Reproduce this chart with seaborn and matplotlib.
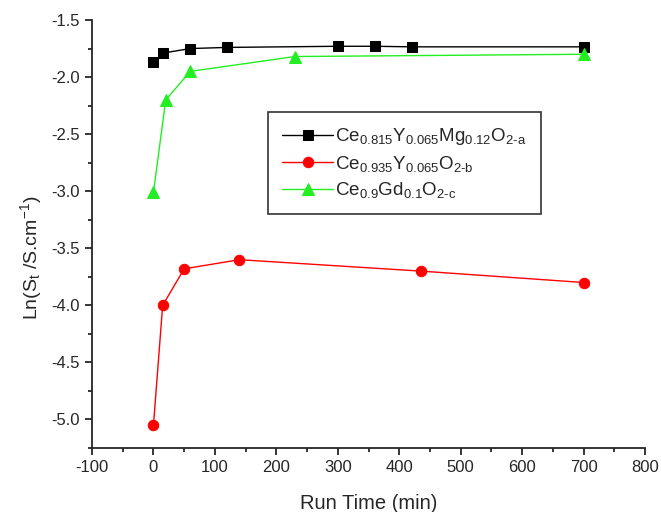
import matplotlib
matplotlib.use("Agg")
import matplotlib.pyplot as plt
import seaborn as sns
import pandas as pd
from matplotlib.ticker import MultipleLocator

# data
time_a = [0, 15, 60, 120, 300, 360, 420, 700]
ln_a = [-1.87, -1.79, -1.75, -1.74, -1.73, -1.73, -1.735, -1.735]
time_b = [0, 15, 50, 140, 435, 700]
ln_b = [-5.05, -4.00, -3.68, -3.60, -3.70, -3.80]
time_c = [0, 20, 60, 230, 700]
ln_c = [-3.01, -2.20, -1.95, -1.82, -1.80]
labels = [r'Ce$_{0.815}$Y$_{0.065}$Mg$_{0.12}$O$_{2\text{-}a}$',
          r'Ce$_{0.935}$Y$_{0.065}$O$_{2\text{-}b}$',
          r'Ce$_{0.9}$Gd$_{0.1}$O$_{2\text{-}c}$']

sns.set_style("ticks")
plt.rcParams['font.family'] = ['Liberation Sans', 'DejaVu Sans']
plt.rcParams['mathtext.default'] = 'regular'
plt.rcParams['mathtext.fontset'] = 'custom'
plt.rcParams['mathtext.rm'] = 'Liberation Sans'
plt.rcParams['axes.unicode_minus'] = False

fig = plt.figure(figsize=(6.61, 5.12), dpi=100)
ax = fig.add_axes([0.1392, 0.125, 0.8366, 0.8359])

series = [(time_a, ln_a, 'black', 's', 7),
          (time_b, ln_b, '#ff0000', 'o', 7.5),
          (time_c, ln_c, '#22ee22', '^', 8.5)]
for (t, v, c, m, ms), lab in zip(series, labels):
    df = pd.DataFrame({'t': t, 'v': v})
    sns.lineplot(data=df, x='t', y='v', ax=ax, color=c, marker=m,
                 markersize=ms, markeredgecolor=c, linewidth=1.0, label=lab)

ax.set_xlim(-100, 800)
ax.set_ylim(-5.25, -1.5)
ax.xaxis.set_major_locator(MultipleLocator(100))
ax.xaxis.set_minor_locator(MultipleLocator(50))
ax.yaxis.set_major_locator(MultipleLocator(0.5))
ax.yaxis.set_minor_locator(MultipleLocator(0.25))
ax.tick_params(which='major', length=5, width=1.3, labelsize=12, direction='out')
ax.tick_params(which='minor', length=3, width=1.3, direction='out')
for s in ['top', 'right']:
    ax.spines[s].set_visible(False)
for s in ['left', 'bottom']:
    ax.spines[s].set_linewidth(1.3)
ax.set_xlabel('Run Time (min)', fontsize=14.5, labelpad=14)
ax.set_ylabel(r'Ln(S$_t$ /S.cm$^{-1}$)', fontsize=14)
ax.yaxis.set_label_coords(-0.087, 0.444)

leg = ax.legend(loc='upper left', bbox_to_anchor=(0.318, 0.785), fontsize=13.5,
                frameon=True, fancybox=False, edgecolor='black',
                handlelength=2.75, handletextpad=0.1, labelspacing=0.35,
                borderpad=0.75, borderaxespad=0)
leg.get_frame().set_linewidth(1.2)

fig.savefig('out.png', dpi=100)
